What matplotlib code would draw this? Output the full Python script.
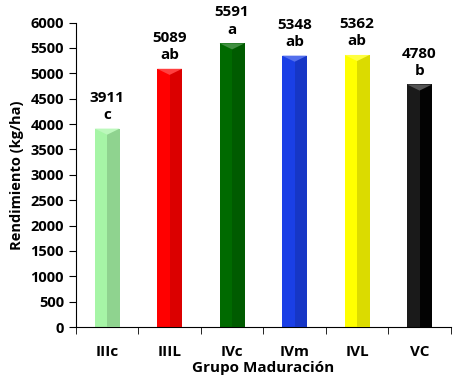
import matplotlib

matplotlib.use("Agg")

import matplotlib.pyplot as plt
import matplotlib.colors as mcolors
import numpy as np

groups = ["IIIc", "IIIL", "IVc", "IVm", "IVL", "VC"]
yields = [3911, 5089, 5591, 5348, 5362, 4780]
letters = ["c", "ab", "a", "ab", "ab", "b"]
bar_colors = ["#a6f5a6", "#ff0000", "#006a00", "#1a3fe6", "#ffff00", "#1a1a1a"]

plt.rcParams["font.family"] = ["Open Sans", "DejaVu Sans"]
plt.rcParams["font.weight"] = "bold"


def shade(color, factor):
    rgb = np.array(mcolors.to_rgb(color))
    if factor < 1:
        return tuple(rgb * factor)
    return tuple(rgb + (1 - rgb) * (factor - 1))


fig = plt.figure(figsize=(4.6, 3.76), dpi=100)
ax = fig.add_axes([0.165, 0.13, 0.815, 0.81])

x = np.arange(len(groups))
width = 0.4
ax.bar(x, yields, width=width, color=bar_colors, edgecolor="none", zorder=2)

# bevel look: darker right half, lighter top triangle
for xi, val, col in zip(x, yields, bar_colors):
    dark = 0.86 if xi != 5 else 0.1
    ax.bar(xi + width / 4, val, width=width / 2, color=shade(col, dark),
           edgecolor="none", zorder=3)
    tri_h = 120
    ax.fill([xi - width / 2, xi + width / 2, xi],
            [val, val, val - tri_h], color=shade(col, 1.25),
            zorder=4, linewidth=0)
    ax.text(xi, val + 130, f"{val}\n{letters[xi]}", ha="center", va="bottom",
            fontsize=11, fontweight="bold", linespacing=1.3)

ax.set_xlim(-0.5, len(groups) - 0.5)
ax.set_ylim(0, 6000)
ax.set_yticks(np.arange(0, 6001, 500))
ax.set_xticks(x)
ax.set_xticklabels(groups)
ax.set_xticks(np.arange(-0.5, len(groups), 1), minor=True)
ax.tick_params(axis="x", which="major", length=0, pad=13, labelsize=11)
ax.tick_params(axis="x", which="minor", length=5, direction="out")
ax.tick_params(axis="y", length=5, direction="out", labelsize=10.5)
for lbl in ax.get_xticklabels() + ax.get_yticklabels():
    lbl.set_fontweight("bold")

ax.spines["top"].set_visible(False)
ax.spines["right"].set_visible(False)
ax.set_xlabel("Grupo Maduración", fontsize=11, fontweight="bold", labelpad=1)
ax.set_ylabel("Rendimiento (kg/ha)", fontsize=10.5, fontweight="bold", labelpad=5)

fig.savefig("out.png", dpi=100)
